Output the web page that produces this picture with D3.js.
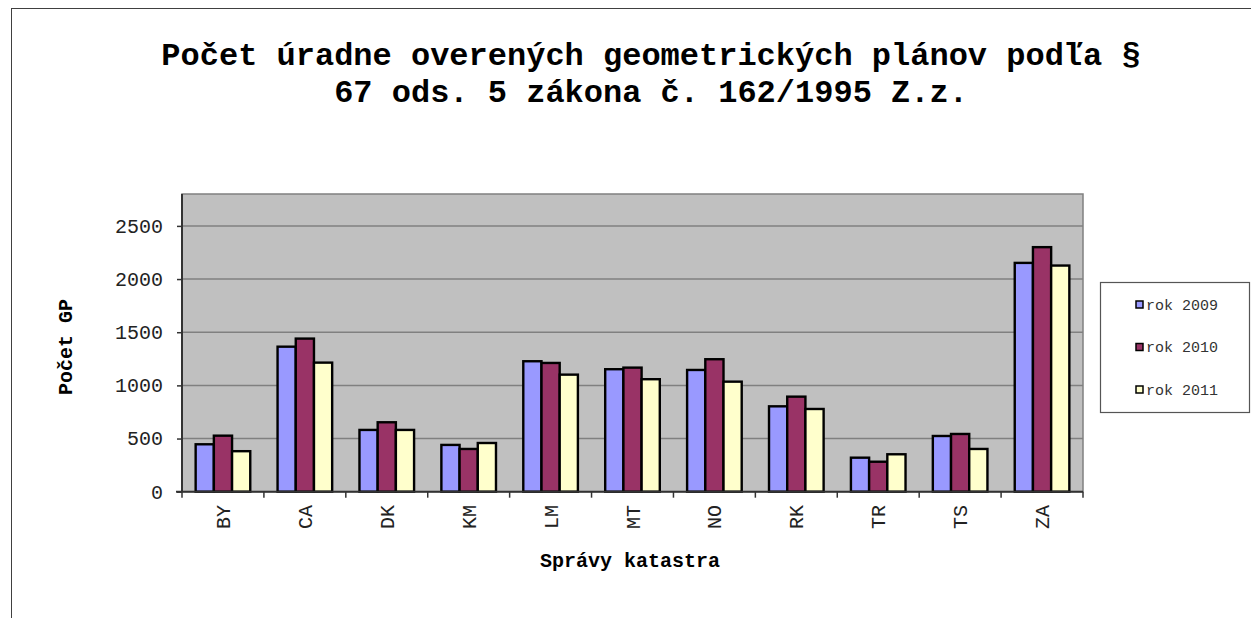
<!DOCTYPE html>
<html>
<head>
<meta charset="utf-8">
<script src="https://cdn.jsdelivr.net/npm/d3@7"></script>
<style>
  body { margin: 0; background: #fff; }
  svg { display: block; }
  .mono { font-family: "Liberation Mono", "Courier New", monospace; }
</style>
</head>
<body>
<svg width="1251" height="618"></svg>
<script>
const categories = ['BY','CA','DK','KM','LM','MT','NO','RK','TR','TS','ZA'];
const seriesNames = ['rok 2009','rok 2010','rok 2011'];
const seriesColors = ['#9999ff','#993366','#ffffcc'];
const rok2009 = [446, 1364, 581, 440, 1227, 1152, 1145, 803, 320, 524, 2152];
const rok2010 = [527, 1440, 653, 402, 1211, 1167, 1246, 894, 282, 543, 2300];
const rok2011 = [381, 1214, 581, 458, 1101, 1058, 1035, 778, 352, 402, 2127];
const yTicks = [0, 500, 1000, 1500, 2000, 2500];

const values = [rok2009, rok2010, rok2011];
const data = categories.map((c, i) => ({
  cat: c,
  vals: seriesNames.map((s, j) => ({ series: s, value: values[j][i] }))
}));

const svg = d3.select('svg');
const MONO = '"Liberation Mono", "Courier New", monospace';

// outer chart frame (runs off the page right and bottom)
svg.append('rect')
  .attr('x', 11.5).attr('y', 8.5)
  .attr('width', 1300).attr('height', 700)
  .attr('fill', '#fff')
  .attr('stroke', '#404040').attr('stroke-width', 1);

const plotLeft = 182, plotRight = 1083, plotTop = 194, plotBottom = 491.7;

const x0 = d3.scaleBand().domain(categories).range([plotLeft, plotRight]).padding(0);
const x1 = d3.scaleBand().domain(seriesNames)
  .range([x0.bandwidth() / 6, x0.bandwidth() * 5 / 6]);
const y = d3.scaleLinear().domain([0, 2800]).range([plotBottom, plotTop]);
const color = d3.scaleOrdinal().domain(seriesNames).range(seriesColors);

// plot area
svg.append('rect')
  .attr('x', plotLeft).attr('y', y(2800))
  .attr('width', plotRight - plotLeft).attr('height', plotBottom - y(2800))
  .attr('fill', '#c0c0c0')
  .attr('stroke', '#808080').attr('stroke-width', 1.5);

// gridlines
svg.append('g').selectAll('line').data(yTicks.filter(t => t > 0))
  .enter().append('line')
    .attr('x1', plotLeft).attr('x2', plotRight)
    .attr('y1', d => y(d)).attr('y2', d => y(d))
    .attr('stroke', '#808080').attr('stroke-width', 1.5);

// bars
const groups = svg.append('g').selectAll('g').data(data)
  .enter().append('g')
    .attr('transform', d => `translate(${x0(d.cat)},0)`);

groups.selectAll('rect').data(d => d.vals)
  .enter().append('rect')
    .attr('x', d => x1(d.series))
    .attr('y', d => y(d.value))
    .attr('width', x1.bandwidth())
    .attr('height', d => plotBottom - y(d.value))
    .attr('fill', d => color(d.series))
    .attr('stroke', '#000').attr('stroke-width', 2.4);

// y axis
const yAxis = d3.axisLeft(y).tickValues(yTicks).tickFormat(d3.format('d'))
  .tickSize(5).tickPadding(14);
const yAxisG = svg.append('g')
  .attr('transform', `translate(${plotLeft},0)`)
  .call(yAxis)
  .attr('font-family', MONO);
yAxisG.select('.domain').attr('stroke', '#333').attr('stroke-width', 2)
  .attr('d', `M0,${plotTop}V${plotBottom}`);
yAxisG.selectAll('.tick line').attr('stroke', '#333').attr('stroke-width', 1.5);
yAxisG.selectAll('.tick text')
  .attr('font-size', 20).attr('fill', '#222');

// x axis: ticks at category boundaries
const xAxisG = svg.append('g').attr('font-family', MONO);
xAxisG.append('line')
  .attr('x1', plotLeft - 6).attr('x2', plotRight)
  .attr('y1', plotBottom).attr('y2', plotBottom)
  .attr('stroke', '#333').attr('stroke-width', 2);
xAxisG.selectAll('line.tk').data(categories.concat(['end']))
  .enter().append('line')
    .attr('class', 'tk')
    .attr('x1', (d, i) => plotLeft + i * x0.step())
    .attr('x2', (d, i) => plotLeft + i * x0.step())
    .attr('y1', plotBottom).attr('y2', plotBottom + 6)
    .attr('stroke', '#333').attr('stroke-width', 1.5);
xAxisG.selectAll('text').data(categories)
  .enter().append('text')
    .attr('font-size', 20).attr('fill', '#222')
    .attr('text-anchor', 'end')
    .attr('transform', d => `translate(${x0(d) + x0.bandwidth() / 2 + 7},505) rotate(-90)`)
    .text(d => d);

// titles
const title = svg.append('text')
  .attr('font-family', MONO)
  .attr('font-size', 32).attr('font-weight', 'bold')
  .attr('text-anchor', 'middle').attr('fill', '#000');
title.append('tspan').attr('x', 651).attr('y', 65)
  .text('Počet úradne overených geometrických plánov podľa §');
title.append('tspan').attr('x', 651).attr('y', 102)
  .text('67 ods. 5 zákona č. 162/1995 Z.z.');

svg.append('text')
  .attr('font-family', MONO)
  .attr('font-size', 20).attr('font-weight', 'bold')
  .attr('text-anchor', 'middle')
  .attr('x', 630).attr('y', 567)
  .text('Správy katastra');

svg.append('text')
  .attr('font-family', MONO)
  .attr('font-size', 20).attr('font-weight', 'bold')
  .attr('text-anchor', 'middle')
  .attr('transform', 'translate(72,347) rotate(-90)')
  .text('Počet GP');

// legend
const legend = svg.append('g').attr('font-family', MONO);
legend.append('rect')
  .attr('x', 1100.5).attr('y', 282.5)
  .attr('width', 149).attr('height', 130)
  .attr('fill', '#fff')
  .attr('stroke', '#555').attr('stroke-width', 1.2);
const items = legend.selectAll('g.item').data(seriesNames)
  .enter().append('g')
    .attr('class', 'item')
    .attr('transform', (d, i) => `translate(1136,${304.5 + i * 42.5})`);
items.append('rect')
  .attr('x', 0).attr('y', -3.5).attr('width', 7).attr('height', 7)
  .attr('fill', d => color(d))
  .attr('stroke', '#000').attr('stroke-width', 1.5);
items.append('text')
  .attr('x', 10).attr('y', 5)
  .attr('font-size', 15).attr('fill', '#333')
  .text(d => d);
</script>
</body>
</html>
